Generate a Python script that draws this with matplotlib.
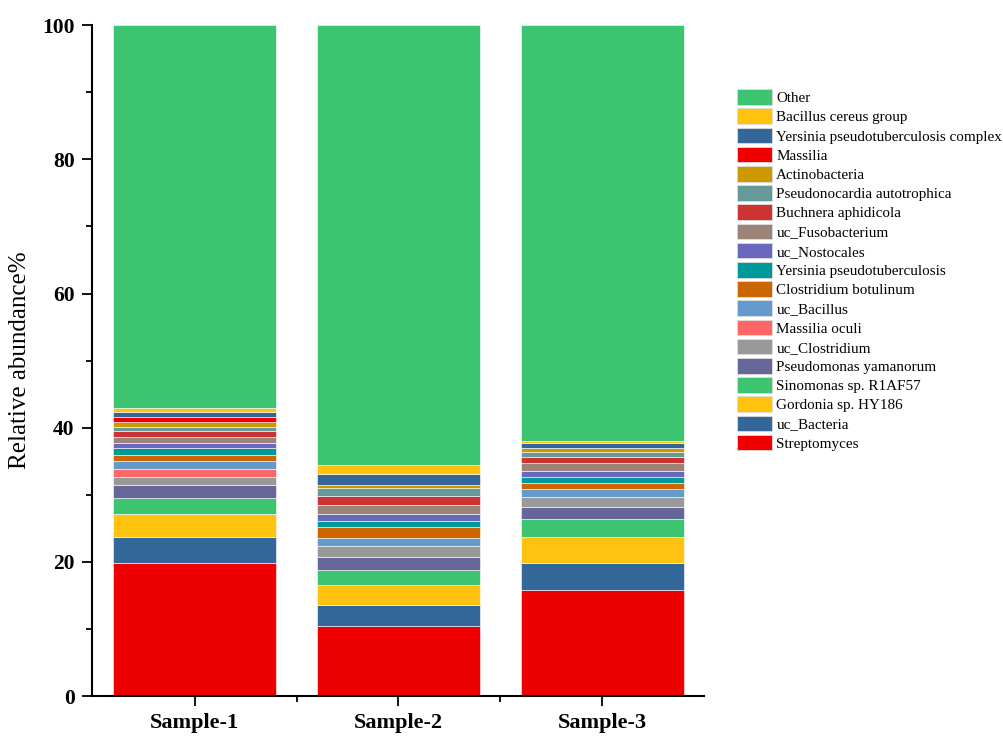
import numpy as np
import matplotlib.pyplot as plt
from matplotlib.patches import Patch

plt.rcParams['font.family'] = ['Liberation Serif', 'DejaVu Serif']

samples = ['Sample-1', 'Sample-2', 'Sample-3']

# taxa listed bottom of the stack first
taxa = ['Streptomyces', 'uc_Bacteria', 'Gordonia sp. HY186', 'Sinomonas sp. R1AF57',
        'Pseudomonas yamanorum', 'uc_Clostridium', 'Massilia oculi', 'uc_Bacillus',
        'Clostridium botulinum', 'Yersinia pseudotuberculosis', 'uc_Nostocales',
        'uc_Fusobacterium', 'Buchnera aphidicola', 'Pseudonocardia autotrophica',
        'Actinobacteria', 'Massilia', 'Yersinia pseudotuberculosis complex',
        'Bacillus cereus group']

colors = ['#ee0000', '#336699', '#ffc20e', '#3cc470', '#666699', '#999999', '#ff6666',
          '#6699cc', '#cc6600', '#009999', '#6a67bf', '#998477', '#cc3333', '#669999',
          '#cc9900', '#ee0000', '#336699', '#ffc20e']
other_color = '#3cc470'

# relative abundance (%) per taxon, one value per sample
abund = {
    'Streptomyces':                        [19.8, 10.5, 15.8],
    'uc_Bacteria':                         [3.9, 3.1, 4.0],
    'Gordonia sp. HY186':                  [3.5, 3.0, 3.9],
    'Sinomonas sp. R1AF57':                [2.35, 2.2, 2.75],
    'Pseudomonas yamanorum':               [1.9, 1.95, 1.75],
    'uc_Clostridium':                      [1.2, 1.6, 1.45],
    'Massilia oculi':                      [1.2, 0.0, 0.0],
    'uc_Bacillus':                         [1.15, 1.15, 1.25],
    'Clostridium botulinum':               [0.95, 1.7, 0.9],
    'Yersinia pseudotuberculosis':         [0.95, 0.9, 0.85],
    'uc_Nostocales':                       [0.85, 1.0, 0.9],
    'uc_Fusobacterium':                    [0.85, 1.4, 1.25],
    'Buchnera aphidicola':                 [0.85, 1.35, 0.85],
    'Pseudonocardia autotrophica':         [0.7, 1.15, 0.65],
    'Actinobacteria':                      [0.75, 0.5, 0.65],
    'Massilia':                            [0.75, 0.0, 0.0],
    'Yersinia pseudotuberculosis complex': [0.7, 1.6, 0.7],
    'Bacillus cereus group':               [0.65, 1.4, 0.3],
}

fig = plt.figure(figsize=(10.04, 7.38), dpi=100)
ax = fig.add_axes([0.0916, 0.0569, 0.6096, 0.909])

x = np.arange(len(samples))
bottom = np.zeros(len(samples))
handles = []
for name, col in zip(taxa, colors):
    vals = np.array(abund[name])
    ax.bar(x, vals, 0.8, bottom=bottom, color=col, edgecolor='white', linewidth=0.4)
    bottom += vals
    handles.append(Patch(facecolor=col, edgecolor='#dddddd', linewidth=0.6, label=name))

other = 100 - bottom
ax.bar(x, other, 0.8, bottom=bottom, color=other_color, edgecolor='white', linewidth=0.4)
handles.append(Patch(facecolor=other_color, edgecolor='#dddddd', linewidth=0.6, label='Other'))

ax.set_xlim(-0.505, 2.5)
ax.set_ylim(0, 100)
ax.set_xticks(x)
ax.set_xticks([0.5, 1.5], minor=True)
ax.set_xticklabels(samples, fontsize=16, fontweight='bold')
ax.set_yticks(np.arange(0, 101, 20))
ax.set_yticks(np.arange(10, 100, 20), minor=True)
ax.set_yticklabels([str(v) for v in range(0, 101, 20)], fontsize=15.5, fontweight='bold')
ax.tick_params(axis='both', which='major', length=7.5, width=1.3, direction='out', pad=5)
ax.tick_params(axis='both', which='minor', length=4, width=1.3, direction='out')
ax.set_ylabel('Relative abundance%', fontsize=18, labelpad=8)

for side in ['top', 'right']:
    ax.spines[side].set_visible(False)
for side in ['left', 'bottom']:
    ax.spines[side].set_linewidth(1.5)

fig.legend(handles[::-1], [h.get_label() for h in handles[::-1]],
           loc='upper left', bbox_to_anchor=(0.734, 0.879), frameon=False,
           fontsize=10.9, handlelength=2.3, handleheight=1.2, handletextpad=0.3,
           labelspacing=0.22, borderaxespad=0, borderpad=0)

fig.savefig('out.png', dpi=100)
